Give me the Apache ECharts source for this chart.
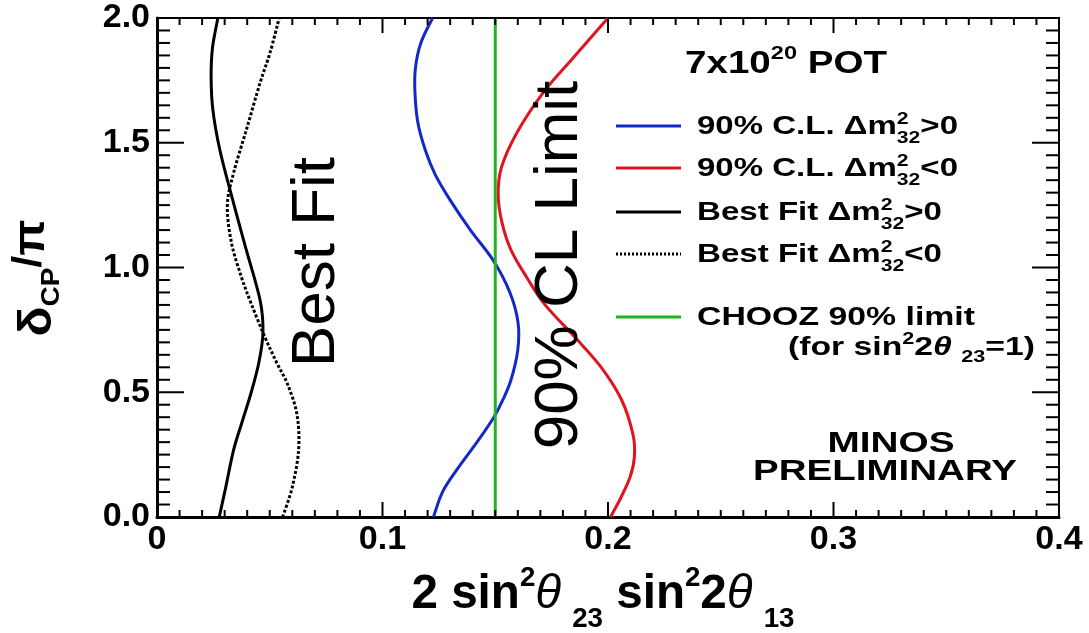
<!DOCTYPE html>
<html>
<head>
<meta charset="utf-8">
<script src="https://cdn.jsdelivr.net/npm/echarts@6/dist/echarts.min.js"></script>
<style>html,body{margin:0;padding:0;background:#fff}#c{width:1089px;height:633px}</style>
</head>
<body>
<div id="c"></div>
<script>
// ---- data: [x = 2 sin^2θ23 sin^2 2θ13, y = δCP/π] ----
const cl90Normal = [[0.1226,0],[0.1266,0.10],[0.1330,0.19],[0.1419,0.30],[0.1494,0.40],[0.1534,0.47],[0.1570,0.55],[0.1600,0.67],[0.1601,0.78],[0.1565,0.90],[0.1490,1.03],[0.1390,1.15],[0.1300,1.27],[0.1235,1.37],[0.1190,1.47],[0.1157,1.58],[0.1144,1.70],[0.1146,1.80],[0.1170,1.90],[0.1222,2.0]];
const cl90Inverted = [[0.2011,0],[0.2053,0.07],[0.2098,0.16],[0.2117,0.24],[0.2111,0.33],[0.2060,0.47],[0.1970,0.60],[0.1854,0.72],[0.1721,0.85],[0.1640,0.96],[0.1570,1.07],[0.1530,1.18],[0.1513,1.29],[0.1527,1.40],[0.1596,1.54],[0.1712,1.70],[0.1845,1.84],[0.2000,2.0]];
const bestFitNormal = [[0.0276,0],[0.0305,0.12],[0.0340,0.27],[0.0377,0.38],[0.0418,0.50],[0.0452,0.62],[0.0470,0.74],[0.0457,0.87],[0.0390,1.09],[0.0333,1.28],[0.0279,1.47],[0.0248,1.63],[0.0240,1.76],[0.0246,1.88],[0.0270,2.0]];
const bestFitInverted = [[0.0557,0],[0.0600,0.12],[0.0628,0.27],[0.0621,0.41],[0.0580,0.53],[0.0530,0.62],[0.0479,0.72],[0.0420,0.85],[0.0375,0.96],[0.0330,1.10],[0.0312,1.25],[0.0340,1.38],[0.0399,1.56],[0.0457,1.74],[0.0501,1.86],[0.0542,2.0]];
const choozLimit = [[0.15,0],[0.15,2.0]];
const xTicks = [0, 0.1, 0.2, 0.3, 0.4];
const yTickLabels = ['0.0','0.5','1.0','1.5','2.0'];

const FAM = '"Liberation Sans", Arial, Helvetica, sans-serif';
const mctx = document.createElement('canvas').getContext('2d');
function fnt(s, g){ return (g.italic?'italic ':'') + (g.bold===false?'normal ':'bold ') + s + 'px ' + FAM; }
function meas(t, f){ mctx.font = f; return mctx.measureText(t).width; }
function textRun(x, y, segs, o) {
  o = o || {};
  let cx = 0; const kids = [];
  const mk = (t, f, px, py) => ({type:'text', x:px, y:py, silent:true, style:{text:t, font:f, fill:o.color||'#000', align:'left', verticalAlign:'middle'}});
  for (const g of segs) {
    const f = fnt(g.s, g);
    if (g.t !== undefined) {
      kids.push(mk(g.t, f, cx, g.dy||0));
      cx += meas(g.t, f);
    } else {
      let w = 0;
      if (g.sup) { kids.push(mk(g.sup, f, cx, g.supDy)); w = Math.max(w, meas(g.sup, f)); }
      if (g.sub) { kids.push(mk(g.sub, f, cx, g.subDy)); w = Math.max(w, meas(g.sub, f)); }
      cx += w;
    }
  }
  const sx = o.width ? o.width / cx : 1;
  const shift = o.anchor === 'center' ? -cx/2 : 0;
  kids.forEach(k => { k.x += shift; });
  return {type:'group', x:x, y:y, rotation:o.rotation||0, scaleX:sx, z:100, children:kids};
}
const dm = (sign, s) => [{t:'Δm', s:s},{sup:'2', sub:'32', s:16, supDy:-7, subDy:12},{t:sign+'0', s:s}];

const graphics = [];
graphics.push({type:'text', x:317, y:262, rotation:Math.PI/2, z:100, silent:true,
  style:{text:'Best Fit', font:'normal 62px ' + FAM, fill:'#000', align:'center', verticalAlign:'middle'}});
graphics.push({type:'text', x:560, y:265, rotation:Math.PI/2, z:100, silent:true,
  style:{text:'90% CL Limit', font:'normal 62px ' + FAM, fill:'#000', align:'center', verticalAlign:'middle'}});
graphics.push(textRun(685, 64, [{t:'7x10', s:31},{sup:'20', s:19, supDy:-10},{t:' POT', s:31}], {width:202}));
const legendRows = [
  {y:126, color:'#1428c8', dash:null, segs:[{t:'90% C.L. ', s:25}].concat(dm('>',25)), w:261},
  {y:168, color:'#e0141e', dash:null, segs:[{t:'90% C.L. ', s:25}].concat(dm('<',25)), w:261},
  {y:212, color:'#000', dash:null, segs:[{t:'Best Fit ', s:25}].concat(dm('>',25)), w:245},
  {y:254, color:'#000', dash:[2,2], segs:[{t:'Best Fit ', s:25}].concat(dm('<',25)), w:245},
  {y:317, color:'#22b422', dash:null, segs:[{t:'CHOOZ 90% limit', s:25}], w:278}
];
legendRows.forEach(r => {
  graphics.push({type:'line', z:100, silent:true, shape:{x1:616, y1:r.y, x2:681, y2:r.y},
    style:{stroke:r.color, lineWidth:3, lineDash:r.dash}});
  graphics.push(textRun(697, r.y+1, r.segs, {width:r.w}));
});
graphics.push(textRun(788, 348, [{t:'(for sin', s:25},{sup:'2', s:16, supDy:-8},{t:'2', s:25},{t:'θ', s:25, italic:true},{t:' ', s:25},{sub:'23', s:16, subDy:10},{t:'=1)', s:25}], {width:247}));
graphics.push(textRun(891, 444, [{t:'MINOS', s:29}], {anchor:'center', width:127}));
graphics.push(textRun(885, 472, [{t:'PRELIMINARY', s:29}], {anchor:'center', width:264}));
graphics.push(textRun(603, 595, [{t:'2 sin', s:48},{sup:'2', s:28, supDy:-17},{t:'θ', s:48, italic:true, bold:false},{t:' ', s:40},{sub:'23', s:28, subDy:24},{t:' sin', s:48},{sup:'2', s:28, supDy:-17},{t:'2', s:48},{t:'θ', s:48, italic:true, bold:false},{t:' ', s:40},{sub:'13', s:28, subDy:24}], {anchor:'center', width:383}));
graphics.push(textRun(38, 278, [{t:'δ', s:46},{sub:'CP', s:26, subDy:14},{t:'/', s:40, dy:-8},{t:'π', s:44, dy:-6}], {anchor:'center', rotation:Math.PI/2, width:117}));

// tick positions on the frame (major every 0.1 / 0.5, minor every 0.01 / 0.05)
const frameTicks = [];
for (let i = 0; i <= 40; i++) frameTicks.push([0, i / 100, i % 10 === 0 ? 1 : 0]);
for (let i = 0; i <= 40; i++) frameTicks.push([1, i * 0.05, i % 10 === 0 ? 1 : 0]);

const chart = echarts.init(document.getElementById('c'), null, {renderer:'canvas'});

// smooth curve through the measured points, mapped with the axes' own scales
const curveSeries = (name, data, color, dash) => ({
  name, type:'custom', data, xAxisIndex:0, yAxisIndex:0, silent:true, z:5, encode:{x:0, y:1},
  renderItem:(params, api) => {
    if (params.dataIndex !== 0) return null;
    const p = data.map(d => api.coord(d));
    const n = p.length;
    const P = i => p[Math.max(0, Math.min(n - 1, i))];
    let d = 'M' + p[0][0] + ',' + p[0][1];
    for (let i = 0; i < n - 1; i++) {
      const p0 = P(i - 1), p1 = P(i), p2 = P(i + 1), p3 = P(i + 2);
      const c1x = p1[0] + (p2[0] - p0[0]) / 6, c1y = p1[1] + (p2[1] - p0[1]) / 6;
      const c2x = p2[0] - (p3[0] - p1[0]) / 6, c2y = p2[1] - (p3[1] - p1[1]) / 6;
      d += 'C' + c1x + ',' + c1y + ',' + c2x + ',' + c2y + ',' + p2[0] + ',' + p2[1];
    }
    return {type:'path', shape:{pathData:d}, style:{stroke:color, fill:null, lineWidth:3, lineDash:dash || null}};
  }
});
const tickSeries = {
  type:'custom', data:frameTicks, silent:true, clip:false, z:6, encode:{x:-1, y:-1},
  renderItem:(params, api) => {
    const axis = api.value(0), v = api.value(1), major = api.value(2);
    const st = {stroke:'#000', lineWidth:2};
    if (axis === 0) {
      const b = api.coord([v, 0]), t = api.coord([v, 2]);
      const L = major ? 15 : 7;
      return {type:'group', children:[
        {type:'line', shape:{x1:b[0], y1:b[1], x2:b[0], y2:b[1]-L}, style:st},
        {type:'line', shape:{x1:t[0], y1:t[1], x2:t[0], y2:t[1]+L}, style:st}]};
    } else {
      const l = api.coord([0, v]), r = api.coord([0.4, v]);
      const L = major ? 27 : 13;
      return {type:'group', children:[
        {type:'line', shape:{x1:l[0], y1:l[1], x2:l[0]+L, y2:l[1]}, style:st},
        {type:'line', shape:{x1:r[0], y1:r[1], x2:r[0]-L, y2:r[1]}, style:st}]};
    }
  }
};
chart.setOption({
  animation:false,
  backgroundColor:'#fff',
  grid:{left:157, right:30, top:18, bottom:116, containLabel:false, show:true, borderColor:'#000', borderWidth:2, backgroundColor:'transparent'},
  xAxis:{type:'value', position:'bottom', min:0, max:0.4, interval:0.1, splitLine:{show:false},
    axisLine:{show:true, onZero:false, lineStyle:{color:'#000', width:3}},
    axisTick:{show:false},
    axisLabel:{show:true, margin:6, color:'#000', fontSize:34, fontWeight:'bold', fontFamily:FAM,
      formatter:v => { const i = Math.round(v*10); return i===0 ? '0' : String(xTicks[i]); }}},
  yAxis:{type:'value', position:'left', min:0, max:2, interval:0.5, splitLine:{show:false},
    axisLine:{show:true, onZero:false, lineStyle:{color:'#000', width:3}},
    axisTick:{show:false},
    axisLabel:{show:true, margin:7, color:'#000', fontSize:34, fontWeight:'bold', fontFamily:FAM,
      formatter:v => yTickLabels[Math.round(v/0.5)]}},
  series:[
    curveSeries('90% C.L. Δm²32>0', cl90Normal, '#1428c8'),
    curveSeries('90% C.L. Δm²32<0', cl90Inverted, '#e0141e'),
    curveSeries('Best Fit Δm²32>0', bestFitNormal, '#000'),
    curveSeries('Best Fit Δm²32<0', bestFitInverted, '#000', [3,2]),
    {name:'CHOOZ 90% limit', type:'line', data:choozLimit, showSymbol:false, symbol:'none',
      lineStyle:{color:'#22b422', width:3}, z:5},
    tickSeries
  ],
  graphic:graphics
});
</script>
</body>
</html>
